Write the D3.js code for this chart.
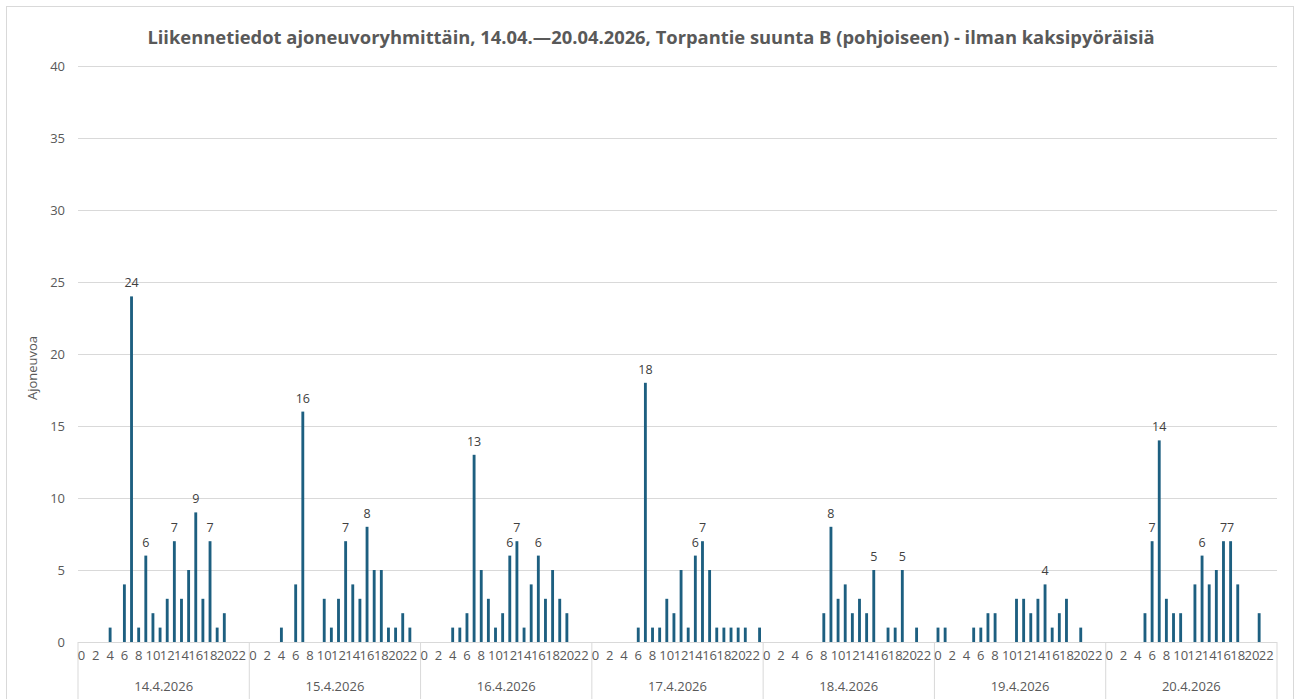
<!DOCTYPE html>
<html>
<head>
<meta charset="utf-8">
<script src="https://cdn.jsdelivr.net/npm/d3@7"></script>
<style>
  body { margin: 0; background: #fff; }
  text { font-family: "Open Sans", "Liberation Sans", sans-serif; }
</style>
</head>
<body>
<div id="chart"></div>
<script>
// Päivät ja tunnit
const days = ["14.4.2026", "15.4.2026", "16.4.2026", "17.4.2026", "18.4.2026", "19.4.2026", "20.4.2026"]
const hours = d3.range(24)
const hourTicks = [0, 2, 4, 6, 8, 10, 12, 14, 16, 18, 20, 22]
const yTicks = [0, 5, 10, 15, 20, 25, 30, 35, 40]

// Ajoneuvoja tunneittain (0..23) per päivä
const day14 = [0, 0, 0, 0, 1, 0, 4, 24, 1, 6, 2, 1, 3, 7, 3, 5, 9, 3, 7, 1, 2, 0, 0, 0]
const day15 = [0, 0, 0, 0, 1, 0, 4, 16, 0, 0, 3, 1, 3, 7, 4, 3, 8, 5, 5, 1, 1, 2, 1, 0]
const day16 = [0, 0, 0, 0, 1, 1, 2, 13, 5, 3, 1, 2, 6, 7, 1, 4, 6, 3, 5, 3, 2, 0, 0, 0]
const day17 = [0, 0, 0, 0, 0, 0, 1, 18, 1, 1, 3, 2, 5, 1, 6, 7, 5, 1, 1, 1, 1, 1, 0, 1]
const day18 = [0, 0, 0, 0, 0, 0, 0, 0, 2, 8, 3, 4, 2, 3, 2, 5, 0, 1, 1, 5, 0, 1, 0, 0]
const day19 = [1, 1, 0, 0, 0, 1, 1, 2, 2, 0, 0, 3, 3, 2, 3, 4, 1, 2, 3, 0, 1, 0, 0, 0]
const day20 = [0, 0, 0, 0, 0, 2, 7, 14, 3, 2, 2, 0, 4, 6, 4, 5, 7, 7, 4, 0, 0, 2, 0, 0]

// Tunnit, joilla arvo näytetään
const labelled14 = [7, 9, 13, 16, 18]
const labelled15 = [7, 13, 16]
const labelled16 = [7, 12, 13, 16]
const labelled17 = [7, 14, 15]
const labelled18 = [9, 15, 19]
const labelled19 = [15]
const labelled20 = [6, 7, 13, 16, 17]

const series = [day14, day15, day16, day17, day18, day19, day20]
const labelled = [labelled14, labelled15, labelled16, labelled17, labelled18, labelled19, labelled20]

const data = []
days.forEach((day, i) => {
    hours.forEach(h => {
        data.push({ day: day, hour: h, value: series[i][h], label: labelled[i].includes(h) })
    })
})

const W = 1297, H = 699
const plot = { left: 78, right: 1277, top: 66, bottom: 642 }

const svg = d3.select("#chart").append("svg")
    .attr("width", W)
    .attr("height", H)

// Kehys
svg.append("rect")
    .attr("x", 6.5).attr("y", 6.5)
    .attr("width", 1287).attr("height", 720)
    .attr("fill", "none")
    .attr("stroke", "#d9d9d9")

// Asteikot
const xDay = d3.scaleBand()
    .domain(days)
    .range([plot.left, plot.right])

const xHour = d3.scaleBand()
    .domain(hours)
    .range([0, xDay.bandwidth()])
    .paddingInner(0.6)
    .paddingOuter(0.3)

const y = d3.scaleLinear()
    .domain([0, 40])
    .range([plot.bottom, plot.top])

// Y-akseli ja ruudukko
const yAxis = svg.append("g")
    .attr("transform", "translate(" + plot.left + ",0)")
    .call(d3.axisLeft(y).tickValues(yTicks).tickSize(-(plot.right - plot.left)).tickPadding(13))
yAxis.select(".domain").remove()
yAxis.selectAll(".tick line").attr("stroke", "#d9d9d9")
yAxis.selectAll(".tick text")
    .attr("fill", "#595959")
    .style("font-size", "13px")

// X-akselin viivat
svg.append("line")
    .attr("x1", plot.left).attr("x2", plot.right)
    .attr("y1", plot.bottom + 0.5).attr("y2", plot.bottom + 0.5)
    .attr("stroke", "#d9d9d9")

svg.append("g")
    .selectAll("line")
    .data(days.concat(["end"]))
    .join("line")
    .attr("x1", d => d === "end" ? plot.right : xDay(d))
    .attr("x2", d => d === "end" ? plot.right : xDay(d))
    .attr("y1", plot.bottom)
    .attr("y2", H)
    .attr("stroke", "#d9d9d9")

// Tuntien tekstit
days.forEach(day => {
    const g = svg.append("g")
        .attr("transform", "translate(" + xDay(day) + "," + plot.bottom + ")")
        .call(d3.axisBottom(xHour).tickValues(hourTicks).tickSize(0).tickPadding(9))
    g.select(".domain").remove()
    g.selectAll("text")
        .attr("fill", "#595959")
        .style("font-size", "13px")
})

// Päivien tekstit
svg.append("g")
    .selectAll("text")
    .data(days)
    .join("text")
    .attr("x", d => xDay(d) + xDay.bandwidth() / 2)
    .attr("y", 691)
    .attr("text-anchor", "middle")
    .attr("fill", "#595959")
    .style("font-size", "13px")
    .text(d => d)

// Pylväät
svg.append("g")
    .selectAll("rect")
    .data(data.filter(d => d.value > 0))
    .join("rect")
    .attr("x", d => xDay(d.day) + xHour(d.hour))
    .attr("y", d => y(d.value))
    .attr("width", xHour.bandwidth())
    .attr("height", d => y(0) - y(d.value))
    .attr("fill", "#1d5f80")

// Arvot
svg.append("g")
    .selectAll("text")
    .data(data.filter(d => d.label))
    .join("text")
    .attr("x", d => xDay(d.day) + xHour(d.hour) + xHour.bandwidth() / 2)
    .attr("y", d => y(d.value) - 9)
    .attr("text-anchor", "middle")
    .attr("fill", "#404040")
    .style("font-size", "12.5px")
    .text(d => d.value)

// Otsikko
const title = svg.append("text")
    .attr("x", 651)
    .attr("y", 44)
    .attr("text-anchor", "middle")
    .attr("fill", "#595959")
    .style("font-size", "18px")
    .style("font-weight", "bold")
    .text("Liikennetiedot ajoneuvoryhmittäin, 14.04.—20.04.2026, Torpantie suunta B (pohjoiseen) - ilman kaksipyöräisiä")
// sovita leveys alkuperäiseen (~1007 px)
const tl = title.node().getComputedTextLength()
title.style("font-size", (18 * 1007 / tl).toFixed(2) + "px")

// Y-akselin otsikko
svg.append("text")
    .attr("transform", "translate(37,368) rotate(-90)")
    .attr("text-anchor", "middle")
    .attr("fill", "#595959")
    .style("font-size", "13px")
    .text("Ajoneuvoa")
</script>
</body>
</html>
